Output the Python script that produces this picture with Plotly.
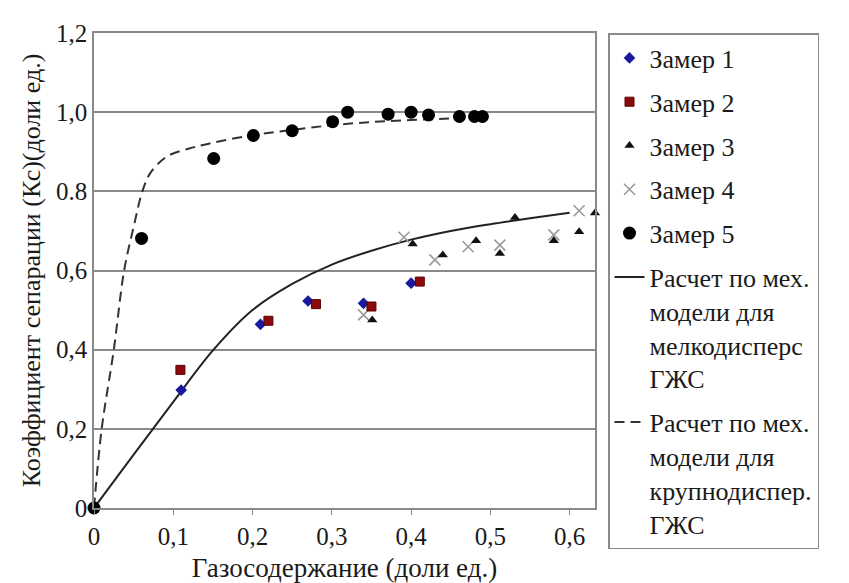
import plotly.graph_objects as go

# Measured separation coefficient (Kc) vs gas content, five measurement runs
z1_x = [0.11, 0.21, 0.27, 0.34, 0.40]
z1_y = [0.298, 0.464, 0.523, 0.517, 0.568]

z2_x = [0.109, 0.22, 0.28, 0.35, 0.411]
z2_y = [0.349, 0.473, 0.515, 0.509, 0.572]

z3_x = [0.351, 0.402, 0.44, 0.482, 0.512, 0.531, 0.58, 0.612, 0.632]
z3_y = [0.475, 0.667, 0.639, 0.675, 0.643, 0.734, 0.675, 0.698, 0.745]

z4_x = [0.34, 0.391, 0.43, 0.472, 0.512, 0.58, 0.612]
z4_y = [0.488, 0.684, 0.627, 0.66, 0.664, 0.69, 0.751]

z5_x = [0.0, 0.06, 0.151, 0.201, 0.25, 0.301, 0.32, 0.371, 0.40, 0.422, 0.461, 0.48, 0.49]
z5_y = [0.0, 0.681, 0.883, 0.941, 0.953, 0.976, 1.0, 0.995, 1.0, 0.993, 0.989, 0.989, 0.989]

# Mechanistic model: fine-dispersed gas-liquid mixture
fine_x = [0.0, 0.05, 0.1, 0.15, 0.2, 0.25, 0.3, 0.35, 0.4, 0.45, 0.5, 0.55, 0.6]
fine_y = [0.0, 0.135, 0.268, 0.398, 0.50, 0.566, 0.615, 0.65, 0.678, 0.70, 0.717, 0.732, 0.746]

# Mechanistic model: coarse-dispersed gas-liquid mixture
coarse_x = [0.0, 0.0097, 0.025, 0.038, 0.05, 0.061, 0.071, 0.092, 0.12, 0.146, 0.2, 0.25, 0.3, 0.35, 0.4, 0.45, 0.49]
coarse_y = [0.0, 0.2, 0.4, 0.6, 0.71, 0.8, 0.846, 0.888, 0.908, 0.921, 0.942, 0.955, 0.967, 0.975, 0.98, 0.984, 0.986]

y_tickvals = [0, 0.2, 0.4, 0.6, 0.8, 1.0, 1.2]
y_ticktext = ["0", "0,2", "0,4", "0,6", "0.8", "1,0", "1,2"]
x_tickvals = [0, 0.1, 0.2, 0.3, 0.4, 0.5, 0.6]
x_ticktext = ["0", "0,1", "0,2", "0,3", "0,4", "0,5", "0,6"]

names = [
    "Замер 1", "Замер 2", "Замер 3", "Замер 4", "Замер 5",
    "Расчет по мех.<br>модели для<br>мелкодисперс<br>ГЖС",
    "Расчет по мех.<br>модели для<br>крупнодиспер.<br>ГЖС",
]

FONT = "Liberation Serif, serif"
GRID = "#8a8a8a"

fig = go.Figure()

fig.add_trace(go.Scatter(
    x=fine_x, y=fine_y, mode="lines", name=names[5], legendgroup="g6",
    line=dict(color="#222222", width=2, shape="spline"),
    cliponaxis=False, legendrank=6,
))
fig.add_trace(go.Scatter(
    x=coarse_x, y=coarse_y, mode="lines", name=names[6], legendgroup="g7",
    line=dict(color="#333333", width=2, dash="10px,6px", shape="spline"),
    cliponaxis=False, legendrank=7,
))
fig.add_trace(go.Scatter(
    x=z4_x, y=z4_y, mode="markers", name=names[3], legendgroup="g4",
    marker=dict(symbol="x-thin", size=11, line=dict(color="#9a9a9a", width=1.6)),
    cliponaxis=False, legendrank=4,
))
fig.add_trace(go.Scatter(
    x=z3_x, y=z3_y, mode="markers", name=names[2], legendgroup="g3",
    marker=dict(symbol="triangle-up", size=9, color="#111111"),
    cliponaxis=False, legendrank=3,
))
fig.add_trace(go.Scatter(
    x=z1_x, y=z1_y, mode="markers", name=names[0], legendgroup="g1",
    marker=dict(symbol="diamond", size=9, color="#1a1aa0"),
    cliponaxis=False, legendrank=1,
))
fig.add_trace(go.Scatter(
    x=z2_x, y=z2_y, mode="markers", name=names[1], legendgroup="g2",
    marker=dict(symbol="square", size=9, color="#8b0a0a", line=dict(color="#5a0000", width=1)),
    cliponaxis=False, legendrank=2,
))
fig.add_trace(go.Scatter(
    x=z5_x, y=z5_y, mode="markers", name=names[4], legendgroup="g5",
    marker=dict(symbol="circle", size=13, color="#000000"),
    cliponaxis=False, legendrank=5,
))

fig.update_layout(
    width=849, height=583,
    margin=dict(l=94, r=254, t=33, b=75, autoexpand=False),
    paper_bgcolor="white", plot_bgcolor="white",
    font=dict(family=FONT, size=25, color="#1a1a1a"),
    showlegend=True,
    legend=dict(
        xref="container", yref="container",
        x=608 / 849, y=1 - 33 / 583, xanchor="left", yanchor="top",
        maxheight=560,
        bgcolor="white", bordercolor="#8a8a8a", borderwidth=1.5,
        font=dict(family=FONT, size=26, color="#1a1a1a"),
        itemwidth=30, valign="top",
        traceorder="grouped", tracegroupgap=7,
    ),
    xaxis=dict(
        range=[0, 0.632], tickvals=x_tickvals, ticktext=x_ticktext,
        showgrid=False, zeroline=False, automargin=False,
        showline=True, mirror=True, linecolor=GRID, linewidth=1.5,
        ticks="outside", ticklen=5, tickcolor=GRID,
        tickfont=dict(family=FONT, size=25),
        title=dict(text="Газосодержание (доли ед.)", font=dict(family=FONT, size=27), standoff=12),
    ),
    yaxis=dict(
        range=[0, 1.2], tickvals=y_tickvals, ticktext=y_ticktext,
        showgrid=True, gridcolor=GRID, gridwidth=1.5, zeroline=False, automargin=False,
        showline=True, mirror=True, linecolor=GRID, linewidth=1.5,
        ticks="", tickfont=dict(family=FONT, size=25),
        title=dict(text="Коэффициент сепарации (Кс)(доли ед.)", font=dict(family=FONT, size=26), standoff=8),
    ),
)

fig.write_html("out.html")
